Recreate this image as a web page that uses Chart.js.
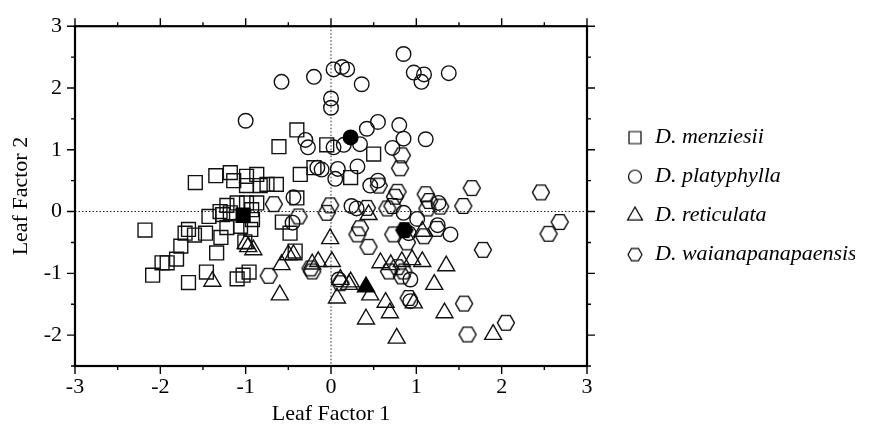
<!DOCTYPE html>
<html><head><meta charset="utf-8">
<script src="https://cdn.jsdelivr.net/npm/chart.js@4.4.1/dist/chart.umd.min.js"></script>
<style>html,body{margin:0;padding:0;background:#fff;}</style>
</head><body>
<canvas id="c" width="875" height="430" style="width:875px;height:430px;display:block"></canvas>
<script>
const xTicks = [-3, -2, -1, 0, 1, 2, 3];
const yTicks = [-2, -1, 0, 1, 2, 3];
const xRange = [-3, 3];
const yRange = [-2.5, 3];
const speciesNames = ['D. menziesii', 'D. platyphylla', 'D. reticulata', 'D. waianapanapaensis'];

const menziesii = [
  [-2.18,-0.30],[-2.09,-1.03],[-1.98,-0.83],[-1.92,-0.83],[-1.81,-0.77],[-1.76,-0.56],
  [-1.71,-0.35],[-1.67,-0.29],[-1.60,-0.38],[-1.67,-1.15],[-1.47,-0.35],[-1.43,-0.08],
  [-1.46,-0.98],[-1.34,-0.67],[-1.29,-0.42],[-1.27,-0.05],[-1.22,-0.26],[-1.10,-1.09],
  [-1.03,-1.03],[-0.96,-0.98],[-1.06,-0.24],[-0.94,-0.29],[-1.01,-0.49],[-0.93,0.03],
  [-0.57,-0.17],[-0.48,-0.35],[-1.59,0.47],[-1.35,0.58],[-1.18,0.63],[-1.14,0.50],
  [-0.99,0.57],[-0.87,0.60],[-0.99,0.42],[-0.83,0.42],[-0.75,0.44],[-0.64,0.44],
  [-0.61,1.05],[-0.40,1.32],[-1.22,0.10],[-1.10,0.14],[-0.99,0.14],[-0.87,0.14],
  [-1.30,0.00],[-1.18,-0.02],[-0.92,-0.13],[-0.42,-0.64],[-0.05,1.08],[0.50,0.93],
  [-0.36,0.60],[-0.20,0.71],[0.23,0.55],[-0.40,0.22]
];
const platyphylla = [
  [-1.00,1.47],[-0.58,2.10],[-0.20,2.18],[0.03,2.30],[0.13,2.34],[0.19,2.30],
  [0.36,2.06],[0.00,1.83],[0.00,1.68],[0.85,2.55],[0.97,2.25],[1.09,2.22],
  [1.06,2.10],[1.38,2.24],[0.55,1.45],[0.42,1.34],[0.80,1.40],[0.85,1.18],
  [1.11,1.17],[-0.30,1.16],[-0.27,1.04],[0.72,1.03],[0.34,1.09],[0.15,1.08],
  [0.03,1.04],[-0.16,0.71],[-0.11,0.68],[0.08,0.69],[0.31,0.73],[0.05,0.53],
  [0.46,0.42],[0.55,0.50],[-0.44,0.23],[0.24,0.09],[0.30,0.05],[0.85,-0.02],
  [1.01,-0.12],[-0.45,-0.18],[0.91,-0.35],[1.40,-0.37],[0.93,-1.10],[0.09,-1.10],
  [0.93,-1.45],[1.25,-0.22],[1.26,0.14]
];
const reticulata = [
  [-1.39,-1.13],[-0.97,-0.57],[-1.00,-0.52],[-0.91,-0.62],[-0.60,-1.35],[-0.58,-0.86],
  [-0.50,-0.70],[-0.44,-0.70],[-0.22,-0.85],[-0.15,-0.81],[-0.01,-0.44],[0.01,-0.81],
  [0.11,-1.10],[0.21,-1.18],[0.23,-1.14],[0.07,-1.40],[0.46,-1.35],[0.41,-1.74],
  [0.64,-1.47],[0.69,-1.64],[0.77,-2.05],[0.58,-0.83],[0.70,-0.86],[0.83,-0.81],
  [0.95,-0.78],[1.07,-0.81],[1.35,-0.88],[1.21,-1.18],[0.97,-1.48],[1.33,-1.64],
  [1.90,-1.99],[0.44,-0.05],[1.07,-0.32]
];
const waianapanapaensis = [
  [1.65,0.38],[2.46,0.31],[2.68,-0.17],[2.55,-0.36],[1.78,-0.62],[1.56,-1.49],
  [1.60,-1.99],[2.05,-1.80],[0.83,0.91],[0.81,0.70],[0.56,0.42],[0.78,0.32],
  [0.75,0.24],[1.11,0.28],[1.15,0.17],[1.55,0.09],[-0.01,0.10],
  [-0.05,-0.02],[0.42,0.06],[0.66,0.05],[0.72,0.09],[1.13,0.05],[1.28,0.08],
  [-0.38,-0.08],[0.31,-0.37],[0.34,-0.27],[0.44,-0.57],[0.73,-0.37],[1.09,-0.40],
  [1.24,-0.28],[0.89,-0.50],[-0.22,-0.97],[-0.24,-0.92],[-0.73,-1.04],[0.68,-0.97],
  [0.78,-0.90],[0.83,-1.05],[0.85,-0.97],[0.91,-1.40],[0.11,-1.16],[-0.67,0.12]
];
const speciesMeans = [[-1.03,-0.06],[0.23,1.20],[0.41,-1.22],[0.86,-0.30]];

function makeMarker(kind, size, lw, filled) {
  const c = document.createElement('canvas');
  const s = 2 * Math.ceil((size + lw * 2 + 2) / 2);
  c.width = s; c.height = s;
  const g = c.getContext('2d');
  const cx = s / 2, cy = s / 2, r = size / 2;
  g.lineWidth = lw; g.strokeStyle = '#000'; g.fillStyle = '#000';
  g.beginPath();
  if (kind === 'square') g.rect(cx - r, cy - r, size, size);
  else if (kind === 'circle') g.arc(cx, cy, r, 0, Math.PI * 2);
  else if (kind === 'triangle') {
    const h = size * Math.sqrt(3) / 2;
    g.moveTo(cx, cy - h * 2 / 3); g.lineTo(cx + r, cy + h / 3); g.lineTo(cx - r, cy + h / 3); g.closePath();
  } else {
    for (let k = 0; k < 6; k++) {
      const a = k * Math.PI / 3;
      const px = cx + r * Math.cos(a), py = cy + r * Math.sin(a);
      if (k) g.lineTo(px, py); else g.moveTo(px, py);
    }
    g.closePath();
  }
  if (filled) g.fill();
  g.stroke();
  return c;
}

const hexOpen = makeMarker('hexagon', 17, 1.4, false);
const hexFilled = makeMarker('hexagon', 17, 1.4, true);
const legendIcons = [
  makeMarker('square', 12, 1.2, false),
  makeMarker('circle', 13, 1.2, false),
  makeMarker('triangle', 15, 1.2, false),
  makeMarker('hexagon', 14, 1.2, false)
];

const toPts = arr => arr.map(p => ({x: p[0], y: p[1]}));
const styles = ['rect', 'circle', 'triangle', hexOpen];
const filledStyles = ['rect', 'circle', 'triangle', hexFilled];
const radii = [9.8, 7.3, 9.8, 8.5];
const seriesData = [menziesii, platyphylla, reticulata, waianapanapaensis];

const datasets = [];
speciesMeans.forEach((m, i) => {
  datasets.push({
    label: speciesNames[i] + ' mean', data: toPts([m]),
    pointStyle: filledStyles[i], pointRadius: radii[i], pointHoverRadius: radii[i],
    pointBackgroundColor: '#000', pointBorderColor: '#000', pointBorderWidth: 1.4
  });
});
seriesData.forEach((d, i) => {
  datasets.push({
    label: speciesNames[i], data: toPts(d),
    pointStyle: styles[i], pointRadius: radii[i], pointHoverRadius: radii[i],
    pointBackgroundColor: 'rgba(0,0,0,0)', pointBorderColor: '#111', pointBorderWidth: 1.4
  });
});

const serif = 'Liberation Serif, Times New Roman, serif';

const framePlugin = {
  id: 'frame',
  beforeDatasetsDraw(chart) {
    const {ctx, chartArea: a, scales: {x, y}} = chart;
    const x0 = x.getPixelForValue(0), y0 = y.getPixelForValue(0);
    ctx.save();
    ctx.strokeStyle = '#222'; ctx.lineWidth = 1; ctx.setLineDash([1.5, 2]);
    ctx.beginPath();
    ctx.moveTo(x0, a.top); ctx.lineTo(x0, a.bottom);
    ctx.moveTo(a.left, y0); ctx.lineTo(a.right, y0);
    ctx.stroke();
    ctx.restore();
  },
  afterDraw(chart) {
    const {ctx, chartArea: a, scales: {x, y}} = chart;
    ctx.save();
    ctx.strokeStyle = '#000';
    ctx.lineWidth = 2.2;
    ctx.strokeRect(a.left, a.top, a.right - a.left, a.bottom - a.top);
    ctx.lineWidth = 1.4;
    ctx.beginPath();
    for (let v = xRange[0]; v <= xRange[1] + 1e-9; v += 0.5) {
      const px = x.getPixelForValue(v);
      const len = xTicks.includes(v) ? 8 : 4;
      ctx.moveTo(px, a.bottom); ctx.lineTo(px, a.bottom + len);
      ctx.moveTo(px, a.top); ctx.lineTo(px, a.top - len);
    }
    for (let v = yRange[0]; v <= yRange[1] + 1e-9; v += 0.5) {
      const py = y.getPixelForValue(v);
      const len = yTicks.includes(v) ? 8 : 4;
      ctx.moveTo(a.left, py); ctx.lineTo(a.left - len, py);
      ctx.moveTo(a.right, py); ctx.lineTo(a.right + len, py);
    }
    ctx.stroke();
    ctx.restore();
  }
};

new Chart(document.getElementById('c'), {
  type: 'scatter',
  data: {datasets},
  options: {
    responsive: false,
    animation: false,
    devicePixelRatio: 1,
    events: [],
    layout: {padding: {top: 24, right: 20, left: 0, bottom: 0}},
    scales: {
      x: {
        type: 'linear', position: 'bottom', min: xRange[0], max: xRange[1],
        afterBuildTicks: s => { s.ticks = xTicks.map(v => ({value: v})); },
        afterFit: s => { s.height = 64; },
        grid: {display: false, drawTicks: false},
        border: {display: false},
        ticks: {font: {family: serif, size: 22}, color: '#000', padding: 8, autoSkip: false, maxRotation: 0},
        title: {display: true, text: 'Leaf Factor 1', font: {family: serif, size: 22}, color: '#000', padding: {top: 0, bottom: 3}}
      },
      y: {
        type: 'linear', position: 'left', min: yRange[0], max: yRange[1],
        afterBuildTicks: s => { s.ticks = yTicks.map(v => ({value: v})); },
        afterFit: s => { s.width = 75; },
        grid: {display: false, drawTicks: false},
        border: {display: false},
        ticks: {font: {family: serif, size: 22}, color: '#000', padding: 13, autoSkip: false},
        title: {display: true, text: 'Leaf Factor 2', font: {family: serif, size: 22}, color: '#000', padding: {top: 8, bottom: 0}}
      },
      y2: {
        type: 'linear', position: 'right', display: true,
        afterFit: s => { s.width = 22; },
        grid: {display: false, drawTicks: false},
        border: {display: false},
        ticks: {display: false}
      }
    },
    plugins: {
      tooltip: {enabled: false},
      legend: {
        position: 'right', fullSize: false, maxWidth: 246,
        labels: {
          usePointStyle: true, pointStyleWidth: 18, padding: 17,
          font: {family: serif, size: 22, style: 'italic'}, color: '#000',
          generateLabels: () => speciesNames.map((t, i) => ({
            text: t, pointStyle: legendIcons[i], fillStyle: 'rgba(0,0,0,0)',
            strokeStyle: '#000', lineWidth: 1.2, hidden: false, datasetIndex: i + 4, fontColor: '#000'
          }))
        }
      }
    }
  },
  plugins: [framePlugin]
});
</script>
</body></html>
